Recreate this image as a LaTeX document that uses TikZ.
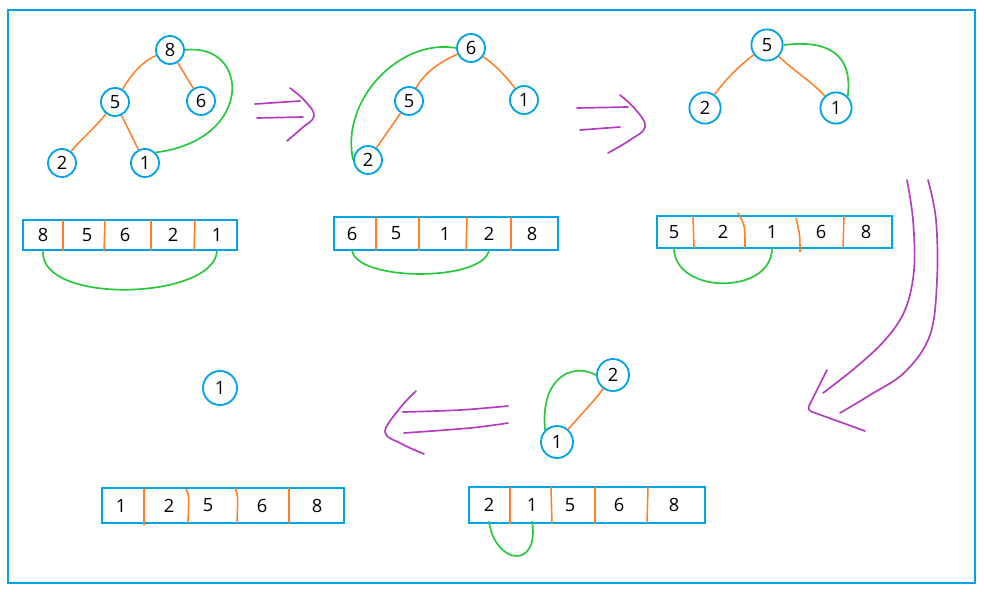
\documentclass[tikz,border=0pt]{standalone}
\usepackage{fontspec}
\setmainfont{Open Sans}
\usetikzlibrary{shapes, arrows}
\definecolor{heapblue}{RGB}{0,162,232}
\definecolor{heaporange}{RGB}{255,127,39}
\definecolor{swapgreen}{RGB}{40,200,60}
\definecolor{stepviolet}{RGB}{180,60,190}
\tikzstyle{heap} = [circle, minimum size=0.7cm, inner sep=0pt, draw=heapblue, line width=1.3pt, font=\fontsize{13}{15}\selectfont]
\tikzstyle{arraybox} = [rectangle, minimum height=0.8cm, draw=heapblue, line width=1.4pt]
\tikzstyle{cell} = [inner sep=0pt, minimum height=0.8cm, font=\fontsize{13}{15}\selectfont]
\tikzstyle{edge} = [draw=heaporange, line width=1.1pt]
\tikzstyle{divider} = [draw=heaporange, line width=1.1pt]
\tikzstyle{swap} = [draw=swapgreen, line width=1.2pt]
\tikzstyle{hint} = [draw=stepviolet, line width=1.2pt, line cap=round, line join=round]

\begin{document}
\begin{tikzpicture}[x=0.025cm, y=-0.025cm]

\useasboundingbox (0,0) rectangle (984,591);
\draw [draw=heapblue, line width=1.4pt] (8,10) rectangle (975,583);

% first heap
\node (t1n8) [heap] at (170,50) {8};
\node (t1n5) [heap] at (115,102) {5};
\node (t1n6) [heap] at (201,101) {6};
\node (t1n2) [heap] at (62,163) {2};
\node (t1n1) [heap] at (145,163) {1};

\draw [edge] (t1n8) .. controls (140,62) and (128,80) .. (t1n5);
\draw [edge] (t1n8) -- (t1n6);
\draw [edge] (t1n5) .. controls (95,128) and (80,140) .. (t1n2);
\draw [edge] (t1n5) -- (t1n1);
\draw [swap] (t1n8.east) .. controls (250,42) and (255,140) .. (t1n1.north east);

\node (arr1) [arraybox, minimum width=5.35cm, minimum height=0.75cm] at (130,235) {};
\node (a1n8) [cell] at (43,235) {8};
\node (a1n5) [cell] at (87,235) {5};
\node (a1n6) [cell] at (125,235) {6};
\node (a1n2) [cell] at (173,235) {2};
\node (a1n1) [cell] at (217,235) {1};
\draw [divider] (63,220) -- (63,251) (105,220) -- (104,251) (151,220) -- (151,250) (195,220) -- (194,250);
\draw [swap] (a1n8.south) .. controls (40,305) and (213,300) .. (a1n1.south);

\draw [hint] (255,104) -- (300,101) (257,118) -- (303,117);
\draw [hint] plot [smooth, tension=0.7] coordinates {(290,88) (305,101) (314,116) (302,128) (287,141)};

% second heap
\node (t2n6) [heap] at (471,48) {6};
\node (t2n5) [heap] at (409,101) {5};
\node (t2n1) [heap] at (524,100) {1};
\node (t2n2) [heap] at (368,160) {2};

\draw [edge] (t2n6) .. controls (440,62) and (425,72) .. (t2n5);
\draw [edge] (t2n6) .. controls (495,65) and (505,75) .. (t2n1);
\draw [edge] (t2n5) -- (t2n2);
\draw [swap] (t2n6.west) .. controls (400,38) and (340,100) .. (t2n2.west);

\node (arr2) [arraybox, minimum width=5.6cm, minimum height=0.825cm] at (446,233.5) {};
\node (a2n6) [cell] at (352,233.5) {6};
\node (a2n5) [cell] at (396,233.5) {5};
\node (a2n1) [cell] at (445,233.5) {1};
\node (a2n2) [cell] at (489,233.5) {2};
\node (a2n8) [cell] at (532,233.5) {8};
\draw [divider] (376,217) -- (376,250) (419,217) -- (419,250) (467,217) -- (466,250) (511,217) -- (511,250);
\draw [swap] (a2n6.south) .. controls (355,282) and (485,282) .. (a2n2.south);

\draw [hint] (577,108) -- (628,107) (580,130) -- (620,127);
\draw [hint] plot [smooth, tension=0.7] coordinates {(620,95) (636,110) (645,127) (630,140) (608,153)};

% third heap
\node (t3n5) [heap, minimum size=0.78cm] at (767,45) {5};
\node (t3n2) [heap, minimum size=0.78cm] at (705,108) {2};
\node (t3n1) [heap, minimum size=0.78cm] at (836,108) {1};

\draw [edge] (t3n5) .. controls (740,65) and (725,80) .. (t3n2);
\draw [edge] (t3n5) .. controls (795,72) and (810,80) .. (t3n1);
\draw [swap] (t3n5.east) .. controls (840,38) and (852,65) .. (t3n1.north east);

\node (arr3) [arraybox, minimum width=5.875cm] at (774.5,232) {};
\node (a3n5) [cell] at (674,232) {5};
\node (a3n2) [cell] at (723,232) {2};
\node (a3n1) [cell] at (772,232) {1};
\node (a3n6) [cell] at (821,232) {6};
\node (a3n8) [cell] at (866,232) {8};
\draw [divider] (693,216) -- (694,248) (738,213) .. controls (745,225) .. (745,248) (796,218) .. controls (800,235) .. (800,252) (844,216) -- (843,248);
\draw [swap] (a3n5.south) .. controls (675,295) and (772,295) .. (a3n1.south);

% long arrow down the right side
\draw [hint] plot [smooth, tension=0.6] coordinates {(907,180) (913,220) (914,270) (905,310) (885,340) (855,368) (823,393)};
\draw [hint] plot [smooth, tension=0.6] coordinates {(928,180) (936,220) (937,280) (930,335) (905,372) (870,395) (840,413)};
\draw [hint, rounded corners=3pt] (827,370) -- (807,410) -- (865,431);

% fourth heap
\node (t4n2) [heap, minimum size=0.8cm] at (613,375) {2};
\node (t4n1) [heap, minimum size=0.8cm] at (557,442) {1};

\draw [edge] (t4n2) .. controls (595,400) and (585,410) .. (t4n1);
\draw [swap] (t4n1.north west) .. controls (540,378) and (572,362) .. (t4n2.west);

\node (arr4) [arraybox, minimum width=5.9cm, minimum height=0.9cm] at (587,505) {};
\node (a4n2) [cell] at (489,505) {2};
\node (a4n1) [cell] at (532,505) {1};
\node (a4n5) [cell] at (570,505) {5};
\node (a4n6) [cell] at (619,505) {6};
\node (a4n8) [cell] at (674,505) {8};
\draw [divider] (510,487) -- (510,524) (551,487) -- (552,524) (595,487) -- (595,524) (648,487) -- (647,523);
\draw [swap] (a4n2.south) .. controls (495,565) and (540,570) .. (a4n1.south);

\draw [hint] plot [smooth, tension=0.6] coordinates {(508,406) (460,410) (403,412)};
\draw [hint] plot [smooth, tension=0.6] coordinates {(508,423) (470,428) (404,433)};
\draw [hint] plot [smooth, tension=0.6] coordinates {(416,391) (400,408) (385,432) (402,444) (424,454)};

% last heap
\node (t5n1) [heap, minimum size=0.85cm] at (220,388) {1};

\node (arr5) [arraybox, minimum width=6.05cm, minimum height=0.875cm] at (223,505.5) {};
\node (a5n1) [cell] at (121,505.5) {1};
\node (a5n2) [cell] at (169,505.5) {2};
\node (a5n5) [cell] at (208,505.5) {5};
\node (a5n6) [cell] at (262,505.5) {6};
\node (a5n8) [cell] at (317,505.5) {8};
\draw [divider] (144,488) -- (144,525) (186,489) .. controls (189,495) .. (188,523) (235,488) .. controls (238,495) .. (237,523) (289,488) -- (289,523);

\end{tikzpicture}
\end{document}
